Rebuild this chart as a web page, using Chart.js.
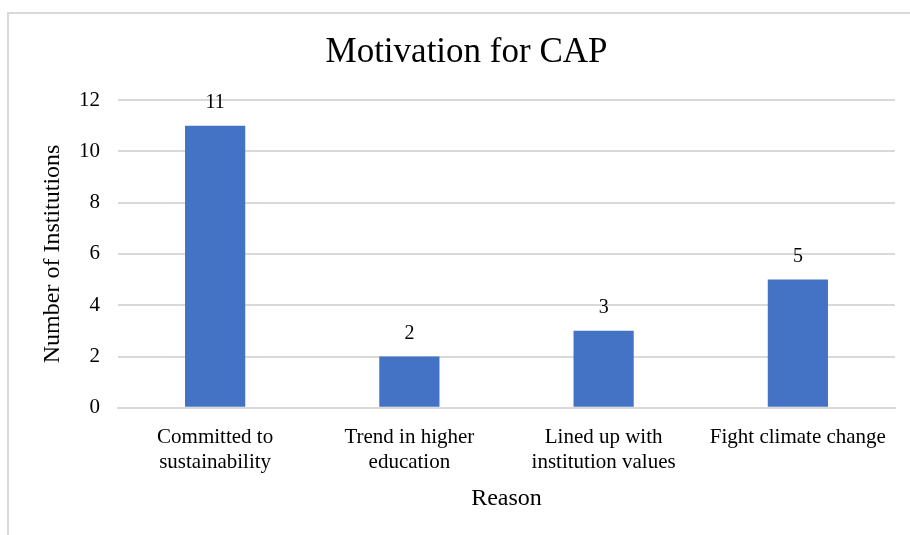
<!DOCTYPE html>
<html>
<head>
<meta charset="utf-8">
<script src="https://cdn.jsdelivr.net/npm/chart.js@4/dist/chart.umd.min.js"></script>
<style>
  html, body { margin: 0; padding: 0; background: #fff; }
  #wrap { position: relative; width: 910px; height: 535px; }
  #frame { position: absolute; left: 7px; top: 12px; right: 0; bottom: 0;
           border-top: 2px solid #d9d9d9; border-left: 2px solid #d9d9d9; pointer-events: none; }
  canvas { position: absolute; left: 0; top: 0; }
</style>
</head>
<body>
<div id="wrap">
  <div id="frame"></div>
  <canvas id="chart" width="910" height="535"></canvas>
</div>
<script>
const reasons = [
  ['Committed to', 'sustainability'],
  ['Trend in higher', 'education'],
  ['Lined up with', 'institution values'],
  'Fight climate change'
];
const institutions = [11, 2, 3, 5];
const yTicks = [0, 2, 4, 6, 8, 10, 12];

const serif = 'Liberation Serif, Times New Roman, serif';

// values above the bars
const barValues = {
  id: 'barValues',
  afterDatasetsDraw(chart) {
    const { ctx } = chart;
    const meta = chart.getDatasetMeta(0);
    ctx.save();
    ctx.font = '20px ' + serif;
    ctx.fillStyle = '#000';
    ctx.textAlign = 'center';
    ctx.textBaseline = 'middle';
    meta.data.forEach((bar, i) => {
      ctx.fillText(String(institutions[i]), bar.x, bar.y - 23);
    });
    ctx.restore();
  }
};

new Chart(document.getElementById('chart'), {
  type: 'bar',
  data: {
    labels: reasons,
    datasets: [{
      label: 'Number of Institutions',
      data: institutions,
      backgroundColor: '#4472C4',
      borderWidth: 0,
      categoryPercentage: 1,
      barPercentage: 0.31
    }]
  },
  options: {
    responsive: false,
    animation: false,
    layout: { padding: { left: 38, right: 15, top: 0, bottom: 22 } },
    plugins: {
      legend: { display: false },
      tooltip: { enabled: false },
      title: {
        display: true,
        text: 'Motivation for CAP',
        color: '#000',
        font: { family: serif, size: 35, weight: 'normal' },
        padding: { top: 32, bottom: 26 }
      }
    },
    scales: {
      x: {
        grid: { display: false },
        border: { color: '#d9d9d9', width: 2 },
        ticks: { color: '#000', font: { family: serif, size: 21 }, padding: 9, maxRotation: 0, autoSkip: false },
        title: { display: true, text: 'Reason', color: '#000', font: { family: serif, size: 24 }, padding: { top: 0, bottom: 0 } }
      },
      y: {
        min: 0, max: 12,
        afterBuildTicks(scale) { scale.ticks = yTicks.map(v => ({ value: v })); },
        afterFit(scale) { scale.width = 80; },
        grid: { color: '#d9d9d9', lineWidth: 2, drawTicks: false },
        border: { display: false },
        ticks: { color: '#000', font: { family: serif, size: 21 }, padding: 18 },
        title: { display: true, text: 'Number of Institutions', color: '#000', font: { family: serif, size: 24 }, padding: 0 }
      }
    }
  },
  plugins: [barValues]
});
</script>
</body>
</html>
